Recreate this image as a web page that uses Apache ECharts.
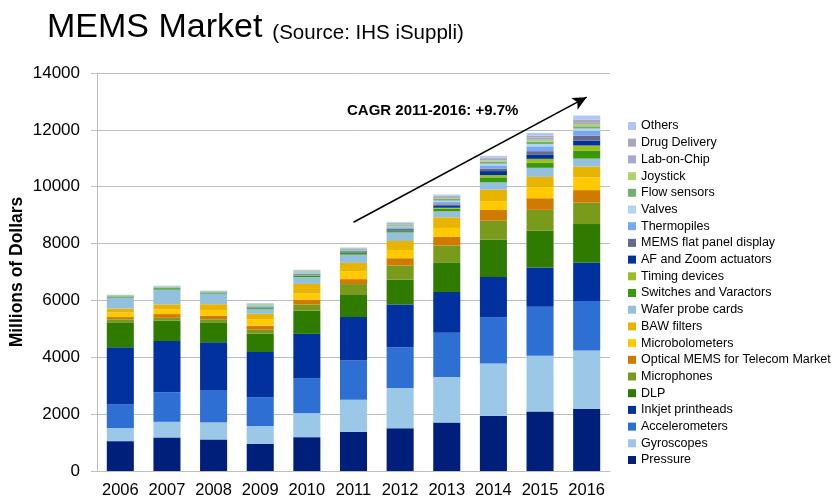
<!DOCTYPE html>
<html>
<head>
<meta charset="utf-8">
<script src="https://cdn.jsdelivr.net/npm/echarts@6/dist/echarts.min.js"></script>
<style>
  html, body { margin: 0; padding: 0; background: #fff; }
  #chart { width: 835px; height: 499px; }
</style>
</head>
<body>
<div id="chart"></div>
<script>
// MEMS market by application, millions of US dollars
const years = ['2006', '2007', '2008', '2009', '2010', '2011', '2012', '2013', '2014', '2015', '2016'];

const pressure        = [1050, 1180, 1110,  960, 1190, 1380, 1500, 1710, 1940, 2090, 2180];
const gyroscopes      = [ 460,  550,  600,  620,  845, 1125, 1420, 1595, 1840, 1960, 2060];
const accelerometers  = [ 845, 1045, 1125, 1020, 1230, 1385, 1430, 1560, 1620, 1725, 1740];
const inkjet          = [1995, 1795, 1690, 1585, 1560, 1525, 1505, 1430, 1420, 1385, 1345];
const dlp             = [ 880,  715,  705,  645,  820,  775,  880, 1045, 1315, 1300, 1360];
const microphones     = [ 105,  105,  105,  140,  210,  385,  490,  590,  670,  725,  755];
const opticalTelecom  = [  80,  130,  130,  140,  175,  175,  260,  305,  375,  410,  440];
const microbolometers = [ 155,  165,  200,  220,  210,  280,  290,  315,  315,  375,  445];
const bawFilters      = [ 140,  175,  200,  200,  340,  290,  315,  375,  400,  375,  375];
const waferProbe      = [ 390,  520,  375,  175,  245,  290,  300,  210,  260,  320,  290];
const switches        = [  40,   50,   40,   50,   55,   60,   50,   90,  175,  175,  270];
const timing          = [   0,    0,    0,   10,   15,   20,   20,   35,   80,  140,  190];
const afZoom          = [   0,    0,    0,    0,   10,   20,   40,   60,  140,  140,  175];
const flatPanel       = [   0,    0,    0,   10,   20,   25,   30,   60,   90,  130,  175];
const thermopiles     = [  10,   10,   10,   25,   30,   30,   45,   80,  110,  170,  165];
const valves          = [  10,   10,   10,   25,   30,   20,   30,   50,   60,   80,   80];
const flowSensors     = [  15,   20,   15,   30,   30,   25,   40,   60,   70,   80,   80];
const joystick        = [   5,   10,    5,   10,   15,   10,   20,   30,   40,   70,   80];
const labOnChip       = [   5,   10,    5,   15,   20,   15,   30,   45,   60,   80,   70];
const drugDelivery    = [   5,   10,    5,   10,   15,   15,   30,   40,   45,   60,   80];
const others          = [  10,   20,   15,   15,   15,   10,   25,   40,   60,  100,  150];

const yTicks = [0, 2000, 4000, 6000, 8000, 10000, 12000, 14000];

// Trend arrow end points (year, value)
const trendStart = ['2011', 8750];
const trendEnd   = ['2016', 13150];

// Stack order from the bottom up
const layers = [
  { name: 'Pressure', data: pressure, color: '#001F7A' },
  { name: 'Gyroscopes', data: gyroscopes, color: '#9CC8E8' },
  { name: 'Accelerometers', data: accelerometers, color: '#2D6FD2' },
  { name: 'Inkjet printheads', data: inkjet, color: '#00319E' },
  { name: 'DLP', data: dlp, color: '#2E7B00' },
  { name: 'Microphones', data: microphones, color: '#7A9A1C' },
  { name: 'Optical MEMS for Telecom Market', data: opticalTelecom, color: '#D07A00' },
  { name: 'Microbolometers', data: microbolometers, color: '#FFCA00' },
  { name: 'BAW filters', data: bawFilters, color: '#E8B400' },
  { name: 'Wafer probe cards', data: waferProbe, color: '#92C0DD' },
  { name: 'Switches and Varactors', data: switches, color: '#3A980C' },
  { name: 'Timing devices', data: timing, color: '#98BE22' },
  { name: 'AF and Zoom actuators', data: afZoom, color: '#00339A' },
  { name: 'MEMS flat panel display', data: flatPanel, color: '#666890' },
  { name: 'Thermopiles', data: thermopiles, color: '#78A8F2' },
  { name: 'Valves', data: valves, color: '#B2D6F0' },
  { name: 'Flow sensors', data: flowSensors, color: '#72B070' },
  { name: 'Joystick', data: joystick, color: '#B2D272' },
  { name: 'Lab-on-Chip', data: labOnChip, color: '#A8AACA' },
  { name: 'Drug Delivery', data: drugDelivery, color: '#AAA8B2' },
  { name: 'Others', data: others, color: '#B0C8F8' }
];

const FONT = '"Liberation Sans", Arial, sans-serif';

const series = layers.map(function (l) {
  return {
    name: l.name,
    type: 'bar',
    stack: 'total',
    data: l.data,
    barWidth: '58%',
    itemStyle: { color: l.color },
    emphasis: { disabled: true }
  };
});

// Trend arrow drawn on the category/value axes
series.push({
  name: 'trend',
  type: 'line',
  data: [],
  silent: true,
  markLine: {
    silent: true,
    symbol: ['none', 'arrow'],
    symbolSize: [10, 14],
    lineStyle: { color: '#000', width: 1.6, type: 'solid' },
    label: { show: false },
    data: [[{ coord: trendStart }, { coord: trendEnd }]]
  }
});

const chart = echarts.init(document.getElementById('chart'), null, { renderer: 'canvas' });
chart.setOption({
  animation: false,
  backgroundColor: '#ffffff',
  textStyle: { fontFamily: FONT },
  title: {
    text: '{a|MEMS Market} {b|(Source: IHS iSuppli)}',
    left: 42,
    top: 6,
    textStyle: {
      rich: {
        a: { fontFamily: FONT, fontSize: 34, fontWeight: 'normal', color: '#000', verticalAlign: 'bottom' },
        b: { fontFamily: FONT, fontSize: 20.5, fontWeight: 'normal', color: '#000', verticalAlign: 'bottom', padding: [0, 0, 1, 5] }
      }
    }
  },
  graphic: [
    {
      type: 'text',
      left: 347,
      top: 103,
      style: { text: 'CAGR 2011-2016: +9.7%', font: 'bold 15px ' + FONT, fill: '#000' }
    },
    {
      // value axis title, rotated to read bottom-up
      type: 'text',
      x: 17,
      y: 272,
      rotation: Math.PI / 2,
      style: {
        text: 'Millions of Dollars',
        font: 'bold 17.5px ' + FONT,
        fill: '#000',
        align: 'center',
        verticalAlign: 'middle'
      }
    }
  ],
  legend: {
    orient: 'vertical',
    left: 628,
    top: 119,
    padding: 0,
    itemWidth: 8,
    itemHeight: 8,
    itemGap: 2.7,
    icon: 'rect',
    data: layers.map(function (l) { return l.name; }).reverse(),
    textStyle: { fontFamily: FONT, fontSize: 12.5, color: '#000', lineHeight: 14 }
  },
  grid: { left: 97, right: 225, top: 73, bottom: 28, containLabel: false, outerBoundsMode: 'none' },
  xAxis: {
    type: 'category',
    data: years,
    axisLine: { lineStyle: { color: '#BEBEBE' } },
    axisTick: { show: false },
    axisLabel: { color: '#000', fontSize: 16.5, fontFamily: FONT, margin: 11, interval: 0 }
  },
  yAxis: {
    type: 'value',
    min: yTicks[0],
    max: yTicks[yTicks.length - 1],
    interval: yTicks[1] - yTicks[0],
    axisLine: { show: true, lineStyle: { color: '#BEBEBE' } },
    axisTick: { show: true, length: 6, lineStyle: { color: '#BEBEBE' } },
    axisLabel: { color: '#000', fontSize: 17, fontFamily: FONT, margin: 17, formatter: function (v) { return String(v); } },
    splitLine: { lineStyle: { color: '#BDBDBD', width: 1 } }
  },
  series: series
});
</script>
</body>
</html>
